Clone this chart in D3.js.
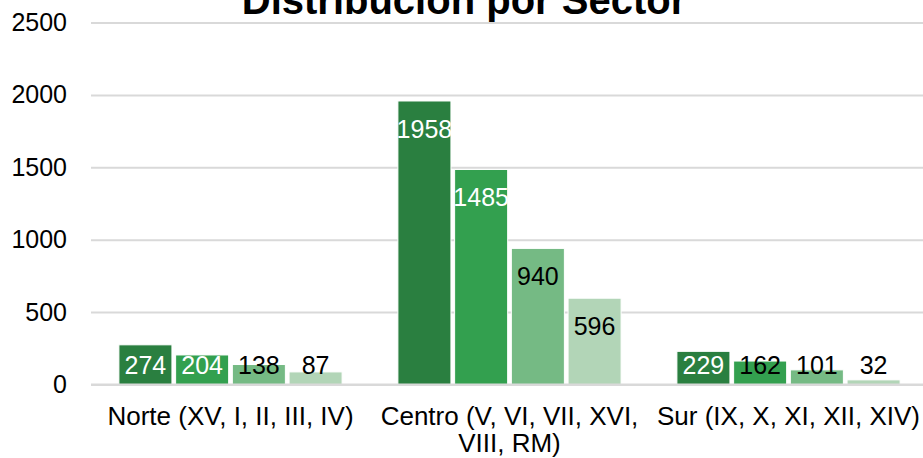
<!DOCTYPE html>
<html><head><meta charset="utf-8">
<script src="https://cdn.jsdelivr.net/npm/d3@7"></script>
<style>body{margin:0;background:#fff}svg{display:block;font-family:Arial,"Liberation Sans",sans-serif}</style>
</head><body>
<svg id="c" width="923" height="458"></svg>
<script>
const title = "Distribución por Sector";
const categories = ["Norte (XV, I, II, III, IV)", "Centro (V, VI, VII, XVI, VIII, RM)", "Sur (IX, X, XI, XII, XIV)"];
const categoryLines = [["Norte (XV, I, II, III, IV)"], ["Centro (V, VI, VII, XVI,", "VIII, RM)"], ["Sur (IX, X, XI, XII, XIV)"]];
const seriesNames = ["Serie 1", "Serie 2", "Serie 3", "Serie 4"];
const serie1 = [274, 1958, 229];
const serie2 = [204, 1485, 162];
const serie3 = [138, 940, 101];
const serie4 = [87, 596, 32];
const seriesValues = [serie1, serie2, serie3, serie4];
const yTicks = [0, 500, 1000, 1500, 2000, 2500];
const colors = ["#2a7f40", "#33a04f", "#75ba84", "#b2d5b7"];

const svg = d3.select("#c");
const mLeft = 91, mRight = 928, mTop = 22.5, mBottom = 384.5;
const y = d3.scaleLinear().domain([0, 2500]).range([mBottom, mTop]);
const x0 = d3.scaleBand().domain(categories).range([mLeft, mRight]).paddingInner(0.2).paddingOuter(0.1);
const x1 = d3.scaleBand().domain(seriesNames).range([0, x0.bandwidth()]).paddingInner(0.065);

// gridlines + y axis
const yAxis = d3.axisLeft(y).tickValues(yTicks).tickSize(-(923 - mLeft)).tickPadding(24).tickFormat(d3.format("d"));
const ga = svg.append("g").attr("transform", `translate(${mLeft},0)`).call(yAxis);
ga.select(".domain").remove();
ga.selectAll(".tick line").attr("stroke", "#d9d9d9").attr("stroke-width", 2);
ga.selectAll(".tick text").attr("font-size", 25).attr("fill", "#000").attr("font-family", "Arial, 'Liberation Sans', sans-serif");

// bars
const groups = svg.append("g").selectAll("g").data(categories).join("g")
  .attr("transform", d => `translate(${x0(d)},0)`);
const cells = groups.selectAll("g").data((c, ci) => seriesNames.map((s, si) => ({s, si, v: seriesValues[si][ci]})))
  .join("g");
cells.append("rect")
  .attr("x", d => x1(d.s)).attr("width", x1.bandwidth())
  .attr("y", d => y(d.v)).attr("height", d => mBottom - y(d.v))
  .attr("fill", d => colors[d.si]).attr("stroke", "#fff").attr("stroke-width", 1);

// axis baseline
svg.append("line").attr("x1", mLeft).attr("x2", 923).attr("y1", mBottom).attr("y2", mBottom)
  .attr("stroke", "#d9d9d9").attr("stroke-width", 2);

// data labels
const labelCenter = d => Math.min(y(d.v) + 28, mBottom - 20);
cells.append("text")
  .attr("x", d => x1(d.s) + x1.bandwidth() / 2)
  .attr("y", d => labelCenter(d) + 9)
  .attr("text-anchor", "middle").attr("font-size", 25)
  .attr("fill", d => (d.si < 2 && mBottom - y(d.v) > 25) ? "#fff" : "#000")
  .text(d => d.v);

// category labels
const cl = svg.append("g").selectAll("text").data(categories).join("text")
  .attr("x", d => x0(d) + x0.bandwidth() / 2).attr("y", 425)
  .attr("text-anchor", "middle").attr("font-size", 26).attr("fill", "#000");
cl.selectAll("tspan").data((d, i) => categoryLines[i]).join("tspan")
  .attr("x", function() { return d3.select(this.parentNode).attr("x"); })
  .attr("dy", (d, i) => i === 0 ? 0 : 27).text(d => d);

// title
svg.append("text").attr("x", 464).attr("y", 13.5).attr("text-anchor", "middle")
  .attr("font-size", 40).attr("font-weight", "bold").attr("fill", "#000").text(title);
</script>
</body></html>
